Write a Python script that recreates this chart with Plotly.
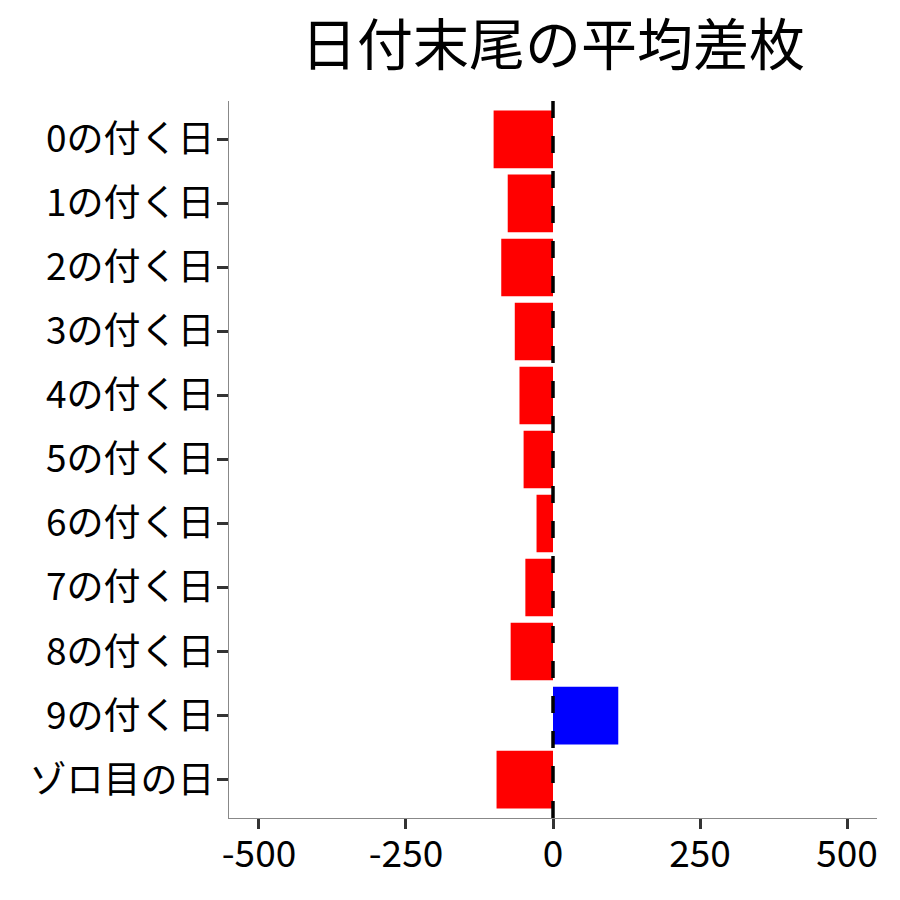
import plotly.graph_objects as go

categories = ["0の付く日", "1の付く日", "2の付く日", "3の付く日", "4の付く日",
              "5の付く日", "6の付く日", "7の付く日", "8の付く日", "9の付く日", "ゾロ目の日"]
values = [-101, -77, -88, -65, -57, -50, -28, -47, -72, 111, -96]
x_ticks = [-500, -250, 0, 250, 500]
x_tick_labels = ["-500", "-250", "0", "250", "500"]
title_text = "日付末尾の平均差枚"

colors = ["#0000FF" if v > 0 else "#FF0000" for v in values]
FONT = "Noto Sans CJK JP"

fig = go.Figure(go.Bar(
    x=values, y=categories, orientation="h",
    marker=dict(color=colors, line=dict(width=0)),
    width=0.9,
))

fig.add_shape(type="line", x0=0, x1=0, xref="x", y0=0, y1=1, yref="paper",
              line=dict(color="black", width=3.5, dash="17px,18px"), layer="above")

fig.update_layout(
    width=900, height=900,
    margin=dict(l=221, r=31, t=93, b=90, autoexpand=False),
    plot_bgcolor="white", paper_bgcolor="white",
    showlegend=False,
    font=dict(family=FONT, color="black"),
    title=dict(text=title_text, x=545/900, xanchor="center", y=1-37/900, yanchor="middle",
               yref="container", automargin=False,
               font=dict(size=56, family=FONT, color="black")),
    xaxis=dict(range=[-551, 551], tickvals=x_ticks, ticktext=x_tick_labels, automargin=False,
               showgrid=False, zeroline=False, showline=True, linecolor="#888888", linewidth=1.3,
               ticks="outside", ticklen=10, tickwidth=2.5, tickcolor="#333333",
               ticklabelstandoff=-7,
               tickfont=dict(size=37, family=FONT, color="black")),
    yaxis=dict(categoryorder="array", categoryarray=categories, range=[10.6, -0.6], automargin=False,
               showgrid=False, zeroline=False, showline=True, linecolor="#888888", linewidth=1.3,
               ticks="outside", ticklen=11, tickwidth=2.5, tickcolor="#333333",
               ticklabelstandoff=-5,
               tickfont=dict(size=37, family=FONT, color="black")),
)

fig.write_html("out.html")
